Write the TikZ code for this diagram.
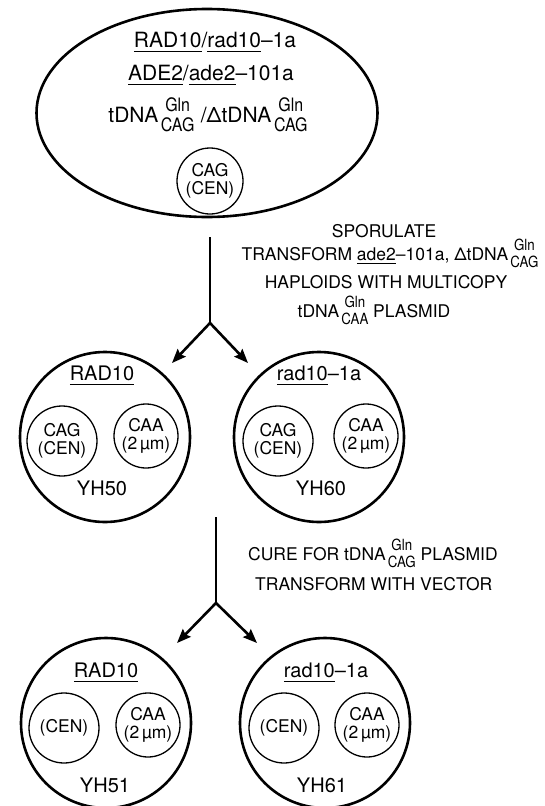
\documentclass[tikz,border=0pt]{standalone}
\usepackage{fontspec}
\setmainfont{TeX Gyre Heros}
\usepackage{graphicx}
\usetikzlibrary{shapes.geometric,arrows.meta}

% gene-name underline, scaled with the current font
\newsavebox\ulbox
\newcommand\ul[1]{\sbox\ulbox{#1}\rlap{\rule[-0.25em]{\wd\ulbox}{0.075em}}\usebox\ulbox}
% tRNA gene: amino acid set above the anticodon, both centred
\newsavebox\stkbox
\newcommand\smallcap[1]{\scalebox{0.76}[0.88]{#1}}
\newcommand\tdna[2]{tDNA\kern0.12em\sbox\stkbox{\smallcap{#2}}%
  \rlap{\makebox[\wd\stkbox]{\raisebox{0.52em}{\smallcap{#1}}}}%
  \raisebox{-0.45em}{\usebox\stkbox}}

\begin{document}
\begin{tikzpicture}[x=1pt,y=-1pt,
  cell/.style={circle,draw,line width=2.6pt,minimum size=170pt,inner sep=0pt},
  plasmid/.style={circle,draw,line width=1.3pt,inner sep=0pt,align=center,
    font=\fontsize{17.5}{17.5}\selectfont},
  gene/.style={inner sep=0pt,anchor=base,font=\fontsize{20}{24}\selectfont},
  big/.style={inner sep=0pt,anchor=base,font=\fontsize{21}{24}\selectfont},
  note/.style={inner sep=0pt,anchor=base,font=\fontsize{17.5}{20}\selectfont},
  stem/.style={line width=2.6pt},
  branch/.style={line width=2.6pt,-{Stealth[length=14pt,width=11pt,inset=2pt]}}]
\useasboundingbox (0,0) rectangle (545,806);

% diploid parent
\node[ellipse,draw,line width=2.6pt,minimum width=341pt,minimum height=208pt,inner sep=0pt]
  (parent) at (207,113) {};
\node[big] (p1) at (215,47) {\ul{RAD10}/\ul{rad10}–1a};
\node[big] (p2) at (211,80) {\ul{ADE2}/\ul{ade2}–101a};
\node[big] (p3) at (208,122) {\tdna{Gln}{CAG}\kern0.3em/Δ\tdna{Gln}{CAG}};
\node[plasmid,minimum size=66pt] (pp) at (210,181) {CAG\\(CEN)};

% first step
\coordinate (s1) at (210,237);
\coordinate (b1) at (210,323);
\coordinate (t1l) at (172,363);
\coordinate (t1r) at (248,363);
\draw[stem] (s1) -- (b1);
\draw[branch] (b1) -- (t1l);
\draw[branch] (b1) -- (t1r);

\node[note] (n1) at (384,237) {SPORULATE};
\node[note] (n2) at (390,260) {TRANSFORM \ul{ade2}–101a, Δ\tdna{Gln}{CAG}};
\node[note] (n3) at (386,288) {HAPLOIDS WITH MULTICOPY};
\node[note] (n4) at (374,317) {\tdna{Gln}{CAA} PLASMID};

% haploid transformants
\node[cell] (yh50) at (105,437) {};
\node[gene] at (102,380) {\ul{RAD10}};
\node[plasmid,minimum size=70pt] (c50a) at (62,441) {CAG\\(CEN)};
\node[plasmid,minimum size=64pt] (c50b) at (146,436) {CAA\\(2\,µm)};
\node[gene] at (102,495) {YH50};

\node[cell] (yh60) at (319,437) {};
\node[gene] at (319,380) {\ul{rad10}–1a};
\node[plasmid,minimum size=70pt] (c60a) at (278,441) {CAG\\(CEN)};
\node[plasmid,minimum size=64pt] (c60b) at (366,436) {CAA\\(2\,µm)};
\node[gene] at (321,495) {YH60};

% second step
\coordinate (s2) at (216,517);
\coordinate (b2) at (216,603);
\coordinate (t2l) at (177,643);
\coordinate (t2r) at (257,643);
\draw[stem] (s2) -- (b2);
\draw[branch] (b2) -- (t2l);
\draw[branch] (b2) -- (t2r);

\node[note,anchor=base west] (n5) at (248,560) {CURE FOR \tdna{Gln}{CAG} PLASMID};
\node[note,anchor=base west] (n6) at (255,590) {TRANSFORM WITH VECTOR};

% cured strains
\node[cell] (yh51) at (106,723) {};
\node[gene] at (106,677) {\ul{RAD10}};
\node[plasmid,minimum size=70pt] (c51a) at (64,728) {(CEN)};
\node[plasmid,minimum size=64pt] (c51b) at (148,725) {CAA\\(2\,µm)};
\node[gene] at (105,792) {YH51};

\node[cell] (yh61) at (325,723) {};
\node[gene] at (326,677) {\ul{rad10}–1a};
\node[plasmid,minimum size=70pt] (c61a) at (284,728) {(CEN)};
\node[plasmid,minimum size=64pt] (c61b) at (367,725) {CAA\\(2\,µm)};
\node[gene] at (322,792) {YH61};
\end{tikzpicture}
\end{document}
